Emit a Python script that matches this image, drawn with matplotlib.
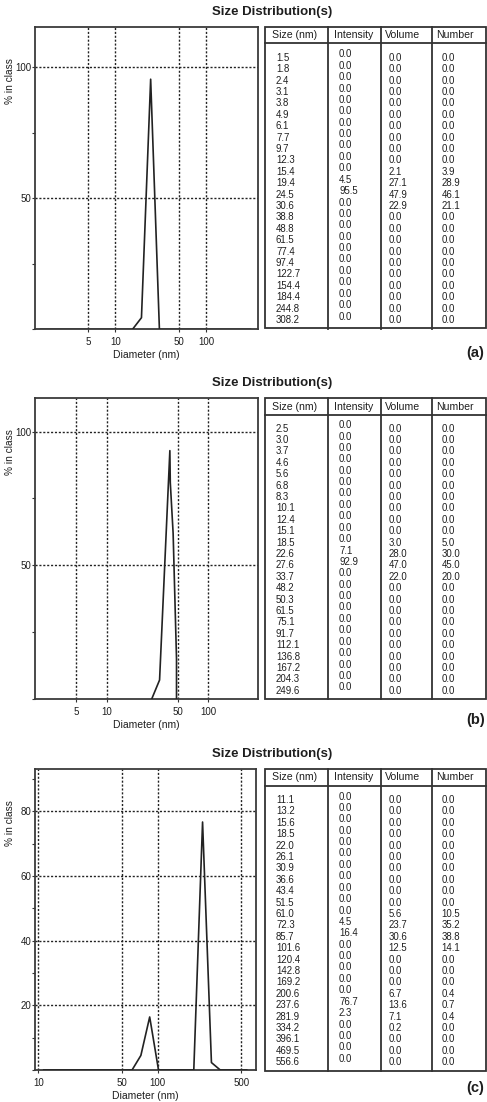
import matplotlib
matplotlib.use("Agg")
import matplotlib.pyplot as plt
from matplotlib.patches import Rectangle
from matplotlib.ticker import FixedLocator, FixedFormatter, NullLocator, MultipleLocator

plt.rcParams['font.family'] = ['Liberation Sans', 'DejaVu Sans']

# ---------------- data ----------------
a_size = [1.5, 1.8, 2.4, 3.1, 3.8, 4.9, 6.1, 7.7, 9.7, 12.3, 15.4, 19.4, 24.5, 30.6,
          38.8, 48.8, 61.5, 77.4, 97.4, 122.7, 154.4, 184.4, 244.8, 308.2]
a_int = [0.0, 0.0, 0.0, 0.0, 0.0, 0.0, 0.0, 0.0, 0.0, 0.0, 0.0, 4.5, 95.5, 0.0,
         0.0, 0.0, 0.0, 0.0, 0.0, 0.0, 0.0, 0.0, 0.0, 0.0]
a_vol = [0.0, 0.0, 0.0, 0.0, 0.0, 0.0, 0.0, 0.0, 0.0, 0.0, 2.1, 27.1, 47.9, 22.9,
         0.0, 0.0, 0.0, 0.0, 0.0, 0.0, 0.0, 0.0, 0.0, 0.0]
a_num = [0.0, 0.0, 0.0, 0.0, 0.0, 0.0, 0.0, 0.0, 0.0, 0.0, 3.9, 28.9, 46.1, 21.1,
         0.0, 0.0, 0.0, 0.0, 0.0, 0.0, 0.0, 0.0, 0.0, 0.0]

b_size = [2.5, 3.0, 3.7, 4.6, 5.6, 6.8, 8.3, 10.1, 12.4, 15.1, 18.5, 22.6, 27.6, 33.7,
          48.2, 50.3, 61.5, 75.1, 91.7, 112.1, 136.8, 167.2, 204.3, 249.6]
b_int = [0.0, 0.0, 0.0, 0.0, 0.0, 0.0, 0.0, 0.0, 0.0, 0.0, 0.0, 7.1, 92.9, 0.0,
         0.0, 0.0, 0.0, 0.0, 0.0, 0.0, 0.0, 0.0, 0.0, 0.0]
b_vol = [0.0, 0.0, 0.0, 0.0, 0.0, 0.0, 0.0, 0.0, 0.0, 0.0, 3.0, 28.0, 47.0, 22.0,
         0.0, 0.0, 0.0, 0.0, 0.0, 0.0, 0.0, 0.0, 0.0, 0.0]
b_num = [0.0, 0.0, 0.0, 0.0, 0.0, 0.0, 0.0, 0.0, 0.0, 0.0, 5.0, 30.0, 45.0, 20.0,
         0.0, 0.0, 0.0, 0.0, 0.0, 0.0, 0.0, 0.0, 0.0, 0.0]
# curve as drawn in plot (b)
b_curve_size = [27.7, 33.1, 41.8, 42.2, 45.0, 48.6, 48.6]
b_curve_int = [0.0, 7.1, 92.9, 81.0, 62.0, 15.0, 0.0]

c_size = [11.1, 13.2, 15.6, 18.5, 22.0, 26.1, 30.9, 36.6, 43.4, 51.5, 61.0, 72.3, 85.7,
          101.6, 120.4, 142.8, 169.2, 200.6, 237.6, 281.9, 334.2, 396.1, 469.5, 556.6]
c_int = [0.0, 0.0, 0.0, 0.0, 0.0, 0.0, 0.0, 0.0, 0.0, 0.0, 0.0, 4.5, 16.4,
         0.0, 0.0, 0.0, 0.0, 0.0, 76.7, 2.3, 0.0, 0.0, 0.0, 0.0]
c_vol = [0.0, 0.0, 0.0, 0.0, 0.0, 0.0, 0.0, 0.0, 0.0, 0.0, 5.6, 23.7, 30.6,
         12.5, 0.0, 0.0, 0.0, 6.7, 13.6, 7.1, 0.2, 0.0, 0.0, 0.0]
c_num = [0.0, 0.0, 0.0, 0.0, 0.0, 0.0, 0.0, 0.0, 0.0, 0.0, 10.5, 35.2, 38.8,
         14.1, 0.0, 0.0, 0.0, 0.4, 0.7, 0.4, 0.0, 0.0, 0.0, 0.0]

a_xticks = [5, 10, 50, 100]
b_xticks = [5, 10, 50, 100]
c_xticks = [10, 50, 100, 500]
a_yticks = [50, 100]
b_yticks = [50, 100]
c_yticks = [20, 40, 60, 80]

headers = ["Size (nm)", "Intensity", "Volume", "Number"]
title = "Size Distribution(s)"
xlabel = "Diameter (nm)"
ylabel = "% in class"

# ---------------- layout ----------------
W, H = 487, 1102
fig = plt.figure(figsize=(W / 100, H / 100), dpi=100)
fig.patch.set_facecolor('white')

ov = fig.add_axes([0, 0, 1, 1], zorder=0)
ov.set_xlim(0, W)
ov.set_ylim(H, 0)
ov.axis('off')

TXT = '#1e1e1e'
LINE = '#333333'


def rect(l, r, t, b):
    return [l / W, 1 - b / H, (r - l) / W, (b - t) / H]


def make_plot(l, r, t, b, xlim, ylim, xs, ys, xticks, yticks, yminor):
    ax = fig.add_axes(rect(l, r, t, b), zorder=2)
    ax.set_xscale('log')
    ax.plot(xs, ys, color='#222222', lw=1.2, zorder=3, clip_on=True)
    ax.set_xlim(*xlim)
    ax.set_ylim(*ylim)
    ax.xaxis.set_major_locator(FixedLocator(xticks))
    ax.xaxis.set_major_formatter(FixedFormatter([str(v) for v in xticks]))
    ax.xaxis.set_minor_locator(NullLocator())
    ax.yaxis.set_major_locator(FixedLocator(yticks))
    ax.yaxis.set_major_formatter(FixedFormatter([str(v) for v in yticks]))
    ax.yaxis.set_minor_locator(MultipleLocator(yminor))
    ax.grid(True, which='major', color='#222222', lw=1.0,
            linestyle=(0, (1.5, 1.3)))
    ax.tick_params(axis='both', which='major', length=2, width=0.8,
                   labelsize=7.0, labelcolor=TXT, color=LINE)
    ax.tick_params(axis='y', which='minor', length=2, width=0.8, color=LINE)
    ax.tick_params(axis='x', which='major', pad=3.5)
    ax.tick_params(axis='y', which='major', pad=1)
    for s in ax.spines.values():
        s.set_color('#3a3a3a')
        s.set_linewidth(1.3)
    ov.text((l + r) / 2, b + 26, xlabel, ha='center', va='center',
            fontsize=7.5, color=TXT)
    ov.text(10, t + 54, ylabel, ha='center', va='center', rotation=90,
            fontsize=7.3, color=TXT)
    return ax


def draw_table(t, b, hline, sizes, ints, vols, nums):
    left, right = 265, 486
    cols = [327.7, 381.0, 432.3]
    ov.add_patch(Rectangle((left, t), right - left, b - t, fill=False,
                           lw=1.3, ec=LINE, zorder=1))
    ov.plot([left, right], [hline, hline], color=LINE, lw=1.3)
    for c in cols:
        ov.plot([c, c], [t, b], color=LINE, lw=1.3)
    hy = (t + hline) / 2
    for hx, txt in zip([295.0, 353.3, 402.8, 455.3], headers):
        ov.text(hx, hy, txt, ha='center', va='center', fontsize=7.6, color=TXT)
    step = 11.4
    n = len(sizes)
    y0 = b - 8.5 - step * (n - 1)
    for i in range(n):
        y = y0 + i * step
        ov.text(276.0, y, f"{sizes[i]:.1f}", ha='left', va='center',
                fontsize=6.9, color=TXT)
        ov.text(339.0, y - 3.5, f"{ints[i]:.1f}", ha='left', va='center',
                fontsize=6.9, color=TXT)
        ov.text(388.3, y, f"{vols[i]:.1f}", ha='left', va='center',
                fontsize=6.9, color=TXT)
        ov.text(441.7, y, f"{nums[i]:.1f}", ha='left', va='center',
                fontsize=6.9, color=TXT)


# panel (a)
make_plot(35.3, 257.7, 27.3, 329.5, (1.31, 371), (0, 115.3),
          a_size, a_int, a_xticks, a_yticks, 25)
draw_table(27.3, 328.5, 43.3, a_size, a_int, a_vol, a_num)
ov.text(272.5, 12.3, title, ha='center', va='center', fontsize=9.5,
        fontweight='bold', color=TXT)
ov.text(466, 353.3, "(a)", ha='left', va='center', fontsize=10.5,
        fontweight='bold', color=TXT)

# panel (b)
make_plot(35.3, 257.7, 397.7, 699.0, (1.98, 306), (0, 112.7),
          b_curve_size, b_curve_int, b_xticks, b_yticks, 25)
draw_table(398.3, 699.3, 415.0, b_size, b_int, b_vol, b_num)
ov.text(272.5, 383.3, title, ha='center', va='center', fontsize=9.5,
        fontweight='bold', color=TXT)
ov.text(466, 720, "(b)", ha='left', va='center', fontsize=10.5,
        fontweight='bold', color=TXT)

# panel (c)
make_plot(35.3, 255.7, 769.3, 1070.0, (9.44, 662), (0, 93.0),
          c_size, c_int, c_xticks, c_yticks, 10)
draw_table(769.0, 1070.7, 786.0, c_size, c_int, c_vol, c_num)
ov.text(272.5, 754.0, title, ha='center', va='center', fontsize=9.5,
        fontweight='bold', color=TXT)
ov.text(466, 1088, "(c)", ha='left', va='center', fontsize=10.5,
        fontweight='bold', color=TXT)

fig.savefig("out.png", dpi=100, facecolor='white')
